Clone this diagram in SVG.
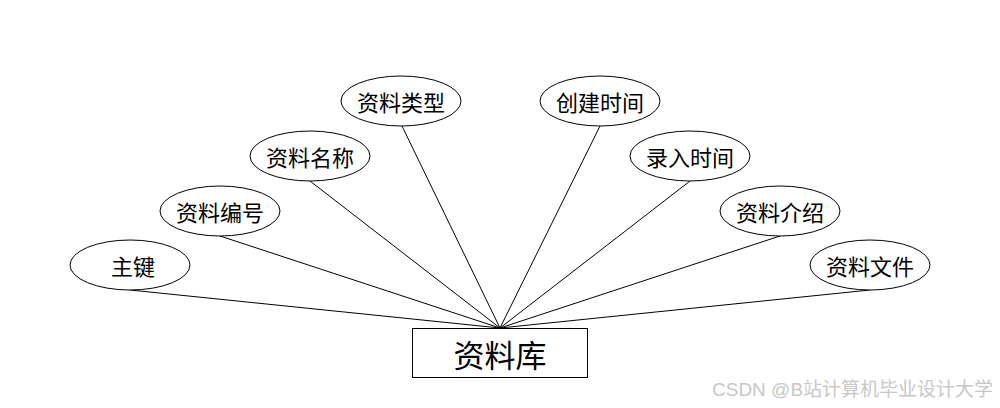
<svg xmlns="http://www.w3.org/2000/svg" width="1000" height="408" viewBox="0 0 1000 408">
<style>
.e{fill:#fff;stroke:#000;stroke-width:1}
.t{font-family:"Noto Sans CJK SC","Noto Sans",sans-serif;font-size:22px;text-anchor:middle;dominant-baseline:central;fill:#000}
.big{font-size:31px}
.c line{stroke:#000;stroke-width:1}
.wm{font-family:"Liberation Sans","Noto Sans CJK SC",sans-serif;font-size:19px;fill:#c8c8c8}
</style>
<rect width="1000" height="408" fill="#fff"/>
<g id="connectors" class="c">
<line x1="130" y1="290" x2="500" y2="328"/>
<line x1="220" y1="236" x2="500" y2="328"/>
<line x1="310" y1="181" x2="500" y2="328"/>
<line x1="402" y1="126" x2="500" y2="328"/>
<line x1="600" y1="126" x2="500" y2="328"/>
<line x1="690" y1="181" x2="500" y2="328"/>
<line x1="780" y1="236" x2="500" y2="328"/>
<line x1="870" y1="290" x2="500" y2="328"/>
</g>
<g id="n0"><ellipse class="e" cx="130" cy="265" rx="60" ry="25"/><text class="t" x="133" y="265">主键</text></g>
<g id="n1"><ellipse class="e" cx="220" cy="211" rx="60" ry="25"/><text class="t" x="220" y="211">资料编号</text></g>
<g id="n2"><ellipse class="e" cx="310" cy="156" rx="60" ry="25"/><text class="t" x="310" y="156">资料名称</text></g>
<g id="n3"><ellipse class="e" cx="401" cy="101" rx="60" ry="25"/><text class="t" x="401" y="101">资料类型</text></g>
<g id="n4"><ellipse class="e" cx="600" cy="101" rx="60" ry="25"/><text class="t" x="600" y="101">创建时间</text></g>
<g id="n5"><ellipse class="e" cx="690" cy="156" rx="60" ry="25"/><text class="t" x="690" y="156">录入时间</text></g>
<g id="n6"><ellipse class="e" cx="780" cy="211" rx="60" ry="25"/><text class="t" x="780" y="211">资料介绍</text></g>
<g id="n7"><ellipse class="e" cx="870" cy="265" rx="60" ry="25"/><text class="t" x="870" y="265">资料文件</text></g>
<g id="main"><rect x="412.5" y="328.5" width="175" height="49" fill="#fff" stroke="#000"/><text class="t big" x="500" y="353">资料库</text></g>
<text class="wm" x="712" y="396">CSDN @B站计算机毕业设计大学</text>
</svg>
